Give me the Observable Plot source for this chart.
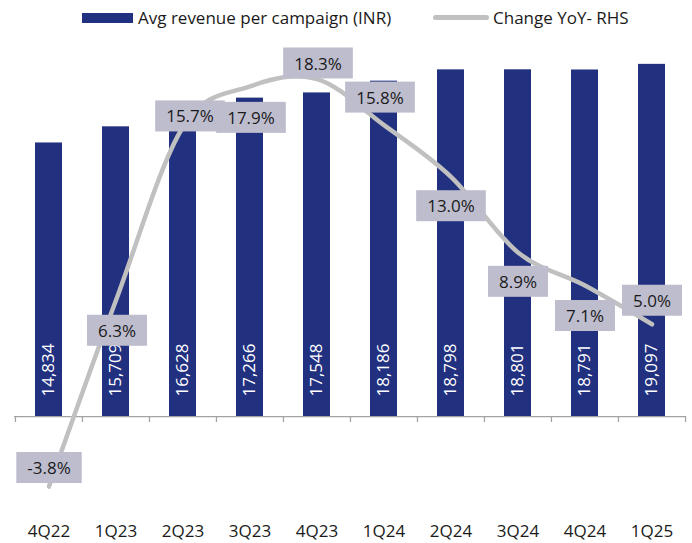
<!DOCTYPE html>
<html>
<head>
<meta charset="utf-8">
<script src="https://cdn.jsdelivr.net/npm/d3@7"></script>
<script src="https://cdn.jsdelivr.net/npm/@observablehq/plot@0.6"></script>
<style>
  html, body { margin: 0; padding: 0; background: #fff; }
  body { width: 692px; height: 543px; overflow: hidden; font-family: "Open Sans", sans-serif; color: #1a1a1a; }
  #legend { position: relative; width: 692px; height: 38px; font-size: 17px; }
  #legend .sw-bar { position: absolute; left: 82px; top: 13px; width: 51px; height: 10px; background: #21307f; }
  #legend .sw-line { position: absolute; left: 433px; top: 15px; width: 56px; height: 5px; border-radius: 3px; background: #c0c0c0; }
  #legend .lab { position: absolute; top: 6px; line-height: 24px; white-space: nowrap; }
  #chart svg { display: block; }
</style>
</head>
<body>
<div id="legend">
  <div class="sw-bar"></div><div class="lab" style="left:138px">Avg revenue per campaign (INR)</div>
  <div class="sw-line"></div><div class="lab" style="left:493px">Change YoY- RHS</div>
</div>
<div id="chart"></div>
<script>
// ---- data ----
const quarters = ["4Q22", "1Q23", "2Q23", "3Q23", "4Q23", "1Q24", "2Q24", "3Q24", "4Q24", "1Q25"];
const avgRevenue = [14834, 15709, 16628, 17266, 17548, 18186, 18798, 18801, 18791, 19097];
const yoyChange = [-3.8, 6.3, 15.7, 17.9, 18.3, 15.8, 13.0, 8.9, 7.1, 5.0];

// ---- layout (pixel offsets of the YoY labels from their points) ----
const labelOffsets = [[0, -19], [1, 30], [7, -11], [1, 31], [1, -16], [-4, -28], [0, 29], [0, 29], [0, 30], [0, -24]];

const rows = quarters.map((q, i) => ({q, rev: avgRevenue[i], yoy: yoyChange[i]}));

// secondary (RHS) axis mapped onto the primary scale
const rhs = d3.scaleLinear().domain([-5, 20]).range([-5000, 20000]);

const W = 692, H = 505, mL = 14, mR = 7;
const halfStep = (W - mL - mR) / quarters.length / 2;
const FONT = 17;
const navy = "#21307f", lineGray = "#c0c0c0", boxFill = "#bebdce", axisGray = "#a3a3a3";

const labelMarks = rows.map((d, i) => Plot.text([d], {
  x: "q",
  y: (r) => rhs(r.yoy),
  text: (r) => r.yoy.toFixed(1) + "%",
  dx: labelOffsets[i][0],
  dy: labelOffsets[i][1] + 1,
  fill: "#1a1a1a",
  fontSize: FONT,
  textAnchor: "middle",
  lineAnchor: "middle"
}));

const svg = Plot.plot({
  width: W,
  height: H,
  marginLeft: mL,
  marginRight: mR,
  marginTop: 9,
  marginBottom: 127,
  style: {fontFamily: "Open Sans", fontSize: FONT + "px", color: "#1a1a1a", background: "white", overflow: "visible"},
  x: {type: "band", domain: quarters, paddingInner: 0.6, paddingOuter: 0.3, axis: null, label: null},
  y: {domain: [-5000, 20000], range: [470.2, 9.2], axis: null, label: null},
  marks: [
    Plot.barY(rows, {x: "q", y: "rev", fill: navy}),
    Plot.ruleY([0], {stroke: axisGray, strokeWidth: 1.25}),
    Plot.axisX({tickSize: 6, dx: -halfStep, stroke: axisGray, strokeWidth: 1.25, fill: "none", label: null}),
    Plot.axisX({ticks: [quarters[quarters.length - 1]], tickSize: 6, dx: halfStep, stroke: axisGray, strokeWidth: 1.25, fill: "none", label: null}),
    Plot.axisX({tickSize: 0, tickPadding: 108, fontSize: FONT, fill: "#1a1a1a", label: null}),
    Plot.text(rows, {
      x: "q", y: 0, text: (d) => d3.format(",")(d.rev),
      rotate: -90, textAnchor: "start", lineAnchor: "middle",
      dy: -20, fill: "white", fontSize: FONT
    }),
    Plot.line(rows, {
      x: "q", y: (d) => rhs(d.yoy), curve: "cardinal",
      stroke: lineGray, strokeWidth: 4.5, strokeLinecap: "round", strokeLinejoin: "round"
    }),
    ...labelMarks
  ]
});

document.getElementById("chart").append(svg);

// grey boxes behind the YoY labels, sized to each label's text
const padX = 11, padY = 4;
Array.from(svg.querySelectorAll("text"))
  .filter((t) => /%$/.test(t.textContent.trim()))
  .forEach((t) => {
    const b = t.getBBox();
    const r = document.createElementNS("http://www.w3.org/2000/svg", "rect");
    r.setAttribute("x", b.x - padX);
    r.setAttribute("y", b.y - padY);
    r.setAttribute("width", b.width + 2 * padX);
    r.setAttribute("height", b.height + 2 * padY);
    r.setAttribute("fill", boxFill);
    r.setAttribute("stroke", "none");
    const tr = t.getAttribute("transform");
    if (tr) r.setAttribute("transform", tr);
    t.parentNode.insertBefore(r, t);
  });
</script>
</body>
</html>
